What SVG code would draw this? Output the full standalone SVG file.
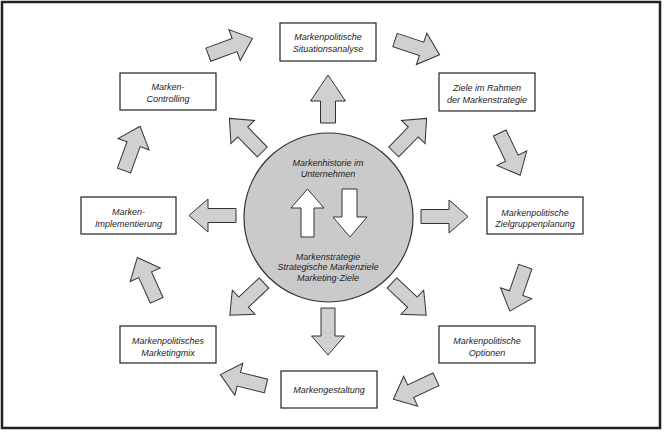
<svg xmlns="http://www.w3.org/2000/svg" xmlns:xlink="http://www.w3.org/1999/xlink" width="664" height="432" viewBox="0 0 664 432">
<style>
.frame{fill:#fff;stroke:#222;stroke-width:2.5}
.box{fill:#fff;stroke:#222;stroke-width:1.2}
.arr{fill:#d0d0d0;stroke:#333;stroke-width:1;stroke-linejoin:miter}
.inner{fill:#fff;stroke:#333;stroke-width:1}
.hub{fill:#cacaca;stroke:#333;stroke-width:1.2}
text{font-family:"Liberation Sans",Arial,sans-serif;font-style:italic;font-size:9px;fill:#222;text-anchor:middle}
</style>
<defs>
<polygon id="a" class="arr" points="0,-7 28,-7 28,-16.5 47,0 28,16.5 28,7 0,7"/>
<polygon id="aup" class="arr" points="0,-7.5 22,-7.5 22,-17.5 48,0 22,17.5 22,7.5 0,7.5"/>
</defs>
<rect class="frame" x="2" y="2" width="658" height="426"/>
<g id="connectors">
<use xlink:href="#aup" transform="translate(328,123) rotate(-90)"/>
<use xlink:href="#a" transform="translate(328,308) rotate(90)"/>
<use xlink:href="#a" transform="translate(421,216.5)"/>
<use xlink:href="#a" transform="translate(236,215.5) rotate(180)"/>
<use xlink:href="#a" transform="translate(393.7,152) rotate(-45.6)"/>
<use xlink:href="#a" transform="translate(262.3,152) rotate(-134.4)"/>
<use xlink:href="#a" transform="translate(392,283) rotate(43.3)"/>
<use xlink:href="#a" transform="translate(264,283) rotate(136.7)"/>
<use xlink:href="#a" transform="translate(208.3,54.7) rotate(-20.3)"/>
<use xlink:href="#a" transform="translate(395,40) rotate(18.4)"/>
<use xlink:href="#a" transform="translate(499.7,133) rotate(64.2)"/>
<use xlink:href="#a" transform="translate(525.3,266.7) rotate(109.2)"/>
<use xlink:href="#a" transform="translate(436,379.3) rotate(154.9)"/>
<use xlink:href="#a" transform="translate(266,386) rotate(194)"/>
<use xlink:href="#a" transform="translate(156.7,300.3) rotate(245.7)"/>
<use xlink:href="#a" transform="translate(124,170.5) rotate(-70)"/>
</g>
<g id="hub">
<circle class="hub" cx="328.5" cy="217.5" r="84.5"/>
<polygon class="inner" points="301,237 301,208 291,208 307.5,189 324,208 314,208 314,237"/>
<polygon class="inner" points="342,189 357,189 357,217 367,217 350,237 333,217 342,217"/>
<text x="328" y="166">Markenhistorie im</text>
<text x="328" y="176.5">Unternehmen</text>
<text x="328" y="259.5">Markenstrategie</text>
<text x="328" y="270">Strategische Markenziele</text>
<text x="328" y="280.5">Marketing-Ziele</text>
</g>
<g id="situationsanalyse">
<rect class="box" x="280" y="23" width="96" height="38"/>
<text x="328" y="40">Markenpolitische</text>
<text x="328" y="52">Situationsanalyse</text>
</g>
<g id="ziele">
<rect class="box" x="439" y="73" width="96" height="38"/>
<text x="487" y="90.5">Ziele im Rahmen</text>
<text x="487" y="102.5">der Markenstrategie</text>
</g>
<g id="controlling">
<rect class="box" x="120" y="73" width="96" height="37"/>
<text x="168" y="90">Marken-</text>
<text x="168" y="101.5">Controlling</text>
</g>
<g id="implementierung">
<rect class="box" x="81" y="197" width="95" height="37"/>
<text x="128.5" y="215">Marken-</text>
<text x="128.5" y="226.5">Implementierung</text>
</g>
<g id="zielgruppenplanung">
<rect class="box" x="487" y="197" width="96" height="37"/>
<text x="535" y="216">Markenpolitische</text>
<text x="535" y="227">Zielgruppenplanung</text>
</g>
<g id="marketingmix">
<rect class="box" x="120" y="326" width="96" height="37"/>
<text x="168" y="344">Markenpolitisches</text>
<text x="168" y="355.5">Marketingmix</text>
</g>
<g id="optionen">
<rect class="box" x="439" y="326" width="96" height="37"/>
<text x="487" y="344">Markenpolitische</text>
<text x="487" y="355.5">Optionen</text>
</g>
<g id="markengestaltung">
<rect class="box" x="281" y="371" width="96" height="37"/>
<text x="329" y="393">Markengestaltung</text>
</g>
</svg>
